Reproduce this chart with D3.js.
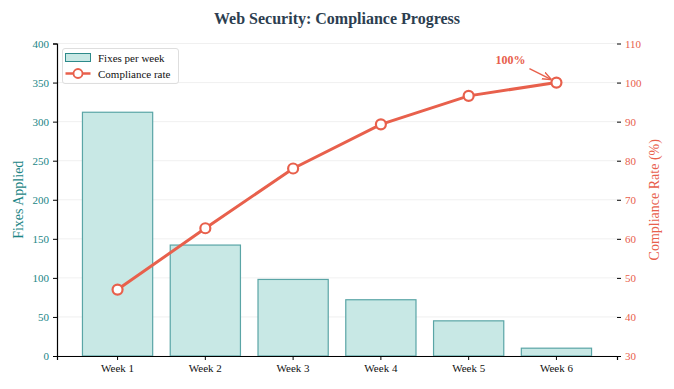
<!DOCTYPE html>
<html>
<head>
<meta charset="utf-8">
<script src="https://cdn.jsdelivr.net/npm/d3@7"></script>
<style>
  body { margin: 0; background: #fff; }
  svg text { font-family: "Liberation Serif", "Times New Roman", serif; }
</style>
</head>
<body>
<svg id="chart"></svg>
<script>
// chart data
const weeks = ['Week 1', 'Week 2', 'Week 3', 'Week 4', 'Week 5', 'Week 6'];
const fixesPerWeek = [312, 142, 98, 72, 45, 10];
const complianceRate = [47.0, 62.7, 78.0, 89.3, 96.6, 100];
const leftTicks = [0, 50, 100, 150, 200, 250, 300, 350, 400];
const rightTicks = [30, 40, 50, 60, 70, 80, 90, 100, 110];

const teal = '#1b8585';
const coral = '#e8604c';
const serif = '"Liberation Serif", "Times New Roman", serif';

const width = 674, height = 389;
const margin = { top: 43.5, right: 57, bottom: 33, left: 57 };
const innerW = width - margin.left - margin.right;
const innerH = height - margin.top - margin.bottom;

const svg = d3.select('#chart')
  .attr('width', width)
  .attr('height', height);

const g = svg.append('g')
  .attr('transform', `translate(${margin.left},${margin.top})`);

// scales
const x = d3.scaleBand()
  .domain(weeks)
  .range([0, innerW])
  .paddingInner(0.2)
  .paddingOuter(0.29);

const yLeft = d3.scaleLinear().domain([0, 400]).range([innerH, 0]);
const yRight = d3.scaleLinear().domain([30, 110]).range([innerH, 0]);

// grid
g.append('g')
  .selectAll('line')
  .data(leftTicks)
  .enter().append('line')
  .attr('x1', 0)
  .attr('x2', innerW)
  .attr('y1', d => yLeft(d))
  .attr('y2', d => yLeft(d))
  .attr('stroke', '#ececec')
  .attr('stroke-width', 0.8);

// bars
g.selectAll('.bar')
  .data(fixesPerWeek)
  .enter().append('rect')
  .attr('class', 'bar')
  .attr('x', (d, i) => x(weeks[i]))
  .attr('width', x.bandwidth())
  .attr('y', d => yLeft(d))
  .attr('height', d => innerH - yLeft(d))
  .attr('fill', '#c8e8e5')
  .attr('stroke', '#5aa5a6')
  .attr('stroke-width', 1.2);

// axes
const xAxis = g.append('g')
  .attr('transform', `translate(0,${innerH})`)
  .call(d3.axisBottom(x).tickSize(4).tickPadding(4))
  .attr('font-family', serif);
xAxis.select('.domain').attr('stroke', '#000').attr('stroke-width', 1.2);
xAxis.selectAll('text').attr('font-size', 11).attr('fill', '#111');

const leftAxis = g.append('g')
  .call(d3.axisLeft(yLeft).tickValues(leftTicks).tickSize(4).tickPadding(4))
  .attr('font-family', serif);
leftAxis.select('.domain').attr('stroke', '#000').attr('stroke-width', 1.2);
leftAxis.selectAll('text').attr('font-size', 11).attr('fill', teal);

const rightAxis = g.append('g')
  .attr('transform', `translate(${innerW},0)`)
  .call(d3.axisRight(yRight).tickValues(rightTicks).tickSize(4).tickPadding(4))
  .attr('font-family', serif);
rightAxis.select('.domain').remove();
rightAxis.selectAll('text').attr('font-size', 11).attr('fill', coral);

// compliance line
const line = d3.line()
  .x((d, i) => x(weeks[i]) + x.bandwidth() / 2)
  .y(d => yRight(d));

g.append('path')
  .datum(complianceRate)
  .attr('d', line)
  .attr('fill', 'none')
  .attr('stroke', coral)
  .attr('stroke-width', 3);

g.selectAll('.dot')
  .data(complianceRate)
  .enter().append('circle')
  .attr('class', 'dot')
  .attr('cx', (d, i) => x(weeks[i]) + x.bandwidth() / 2)
  .attr('cy', d => yRight(d))
  .attr('r', 5)
  .attr('fill', '#fff')
  .attr('stroke', coral)
  .attr('stroke-width', 2.2);

// annotation on last point
svg.append('defs').append('marker')
  .attr('id', 'arrow')
  .attr('viewBox', '0 0 10 10')
  .attr('refX', 10)
  .attr('refY', 5)
  .attr('markerWidth', 7)
  .attr('markerHeight', 7)
  .attr('orient', 'auto')
  .append('path')
  .attr('d', 'M0,1 L10,5 L0,9')
  .attr('fill', 'none')
  .attr('stroke', coral)
  .attr('stroke-width', 1.5);

const lastX = x(weeks[5]) + x.bandwidth() / 2;
const lastY = yRight(complianceRate[5]);
g.append('line')
  .attr('x1', lastX - 27)
  .attr('y1', lastY - 14)
  .attr('x2', lastX - 5)
  .attr('y2', lastY - 3)
  .attr('stroke', coral)
  .attr('stroke-width', 1.3)
  .attr('marker-end', 'url(#arrow)');

g.append('text')
  .attr('x', lastX - 46)
  .attr('y', lastY - 19)
  .attr('text-anchor', 'middle')
  .attr('font-size', 12)
  .attr('font-weight', 'bold')
  .attr('fill', coral)
  .text('100%');

// title
svg.append('text')
  .attr('x', width / 2)
  .attr('y', 24)
  .attr('text-anchor', 'middle')
  .attr('font-size', 16)
  .attr('font-weight', 'bold')
  .attr('fill', '#2c3e50')
  .text('Web Security: Compliance Progress');

// axis titles
svg.append('text')
  .attr('transform', `translate(23, ${margin.top + innerH / 2}) rotate(-90)`)
  .attr('text-anchor', 'middle')
  .attr('font-size', 14)
  .attr('fill', teal)
  .text('Fixes Applied');

svg.append('text')
  .attr('transform', `translate(659, ${margin.top + innerH / 2}) rotate(-90)`)
  .attr('text-anchor', 'middle')
  .attr('font-size', 14)
  .attr('fill', coral)
  .text('Compliance Rate (%)');

// legend
const legend = svg.append('g').attr('transform', 'translate(62.5,48.5)');
legend.append('rect')
  .attr('width', 116)
  .attr('height', 35)
  .attr('rx', 2.5)
  .attr('fill', '#fff')
  .attr('fill-opacity', 0.85)
  .attr('stroke', '#d6d6d6')
  .attr('stroke-width', 0.8);

legend.append('rect')
  .attr('x', 3)
  .attr('y', 5)
  .attr('width', 25)
  .attr('height', 8)
  .attr('fill', '#c8e8e5')
  .attr('stroke', '#2d8a8a')
  .attr('stroke-width', 1);

legend.append('line')
  .attr('x1', 3)
  .attr('x2', 28)
  .attr('y1', 25)
  .attr('y2', 25)
  .attr('stroke', coral)
  .attr('stroke-width', 2.5);
legend.append('circle')
  .attr('cx', 15.5)
  .attr('cy', 25)
  .attr('r', 4.5)
  .attr('fill', '#fff')
  .attr('stroke', coral)
  .attr('stroke-width', 1.8);

legend.append('text')
  .attr('x', 35.5)
  .attr('y', 13)
  .attr('font-size', 11)
  .attr('fill', '#111')
  .text('Fixes per week');
legend.append('text')
  .attr('x', 35.5)
  .attr('y', 29)
  .attr('font-size', 11)
  .attr('fill', '#111')
  .text('Compliance rate');
</script>
</body>
</html>
